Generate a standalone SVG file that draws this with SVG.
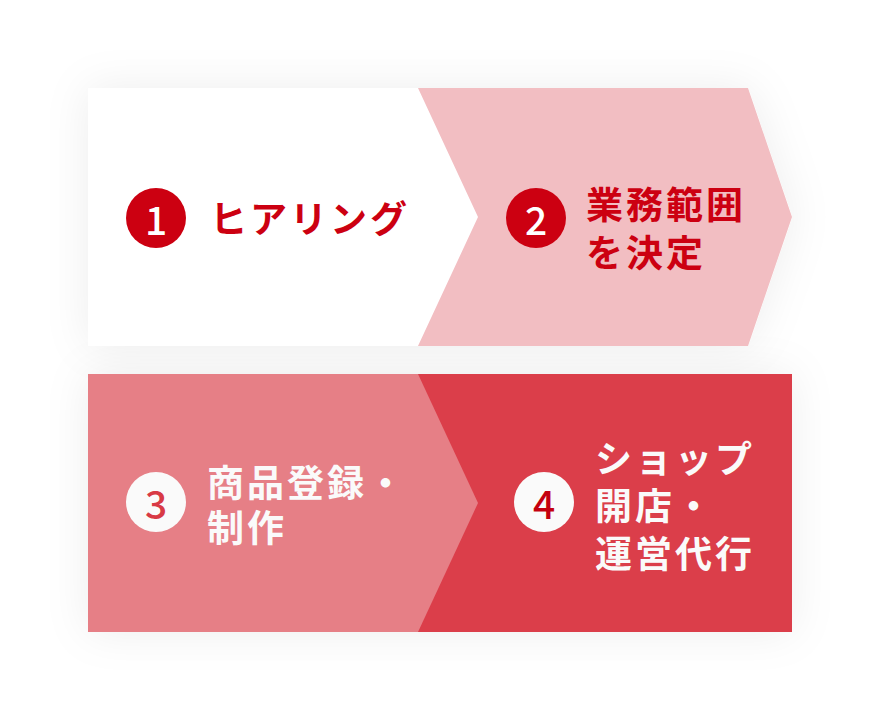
<svg xmlns="http://www.w3.org/2000/svg" width="880" height="720" viewBox="0 0 880 720">
  <defs>
    <filter id="shadow" x="-20%" y="-40%" width="140%" height="180%">
      <feDropShadow dx="0" dy="0" stdDeviation="22" flood-color="#000" flood-opacity="0.07"/>
    </filter>
    <style>
      .label { font-family: "Noto Sans CJK JP", "Noto Sans", sans-serif; font-weight: 700; font-size: 37px; letter-spacing: 3px; }
      .num { font-family: "Noto Sans CJK JP", "Noto Sans", sans-serif; font-weight: 500; font-size: 39px; text-anchor: middle; }
      .red { fill: #CC0011; }
      .wht { fill: #FAFAFA; }
    </style>
  </defs>
  <rect width="880" height="720" fill="#FFFFFF"/>

  <g id="row-top-shadow" filter="url(#shadow)">
    <polygon points="88,88 748,88 792,217 748,346 88,346" fill="#FFFFFF"/>
  </g>
  <g id="row-bottom-shadow" filter="url(#shadow)">
    <rect x="88" y="374" width="704" height="258" fill="#FFFFFF"/>
  </g>

  <g id="step1">
    <polygon points="88,88 418,88 478,217 418,346 88,346" fill="#FFFFFF"/>
    <circle cx="156" cy="218" r="30" fill="#CC0011"/>
    <text class="num" x="156" y="235" fill="#FFFFFF">1</text>
    <text class="label red" x="210" y="233">ヒアリング</text>
  </g>

  <g id="step2">
    <polygon points="418,88 748,88 792,217 748,346 418,346 478,217" fill="#F2BEC2"/>
    <circle cx="536" cy="218" r="30" fill="#CC0011"/>
    <text class="num" x="536" y="235" fill="#FFFFFF">2</text>
    <text class="label red" x="586" y="219">業務範囲</text>
    <text class="label red" x="586" y="267">を決定</text>
  </g>

  <g id="step4">
    <rect x="418" y="374" width="374" height="258" fill="#DB3E4A"/>
    <circle cx="544" cy="502" r="30" fill="#FAFAFA"/>
    <text class="num" x="544" y="519" fill="#C4000F">4</text>
    <text class="label wht" x="595" y="473">ショップ</text>
    <text class="label wht" x="595" y="520">開店・</text>
    <text class="label wht" x="595" y="568">運営代行</text>
  </g>

  <g id="step3">
    <polygon points="88,374 418,374 478,503 418,632 88,632" fill="#E67F86"/>
    <circle cx="156" cy="502" r="30" fill="#FAFAFA"/>
    <text class="num" x="156" y="519" fill="#D83A45">3</text>
    <text class="label wht" x="207" y="497">商品登録・</text>
    <text class="label wht" x="207" y="542">制作</text>
  </g>
</svg>
